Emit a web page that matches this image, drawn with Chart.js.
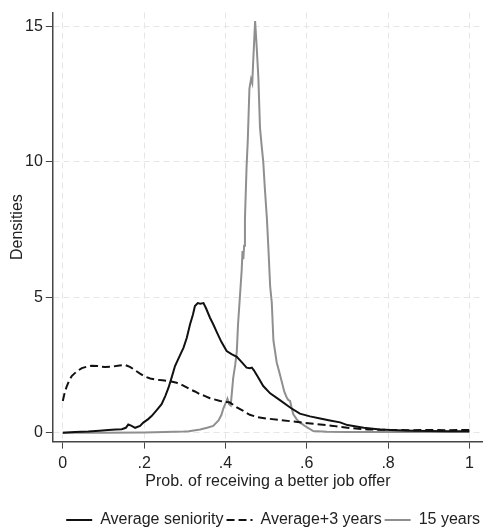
<!DOCTYPE html>
<html>
<head>
<meta charset="utf-8">
<script src="https://cdn.jsdelivr.net/npm/chart.js@4/dist/chart.umd.min.js"></script>
<style>
html,body{margin:0;padding:0;background:#fff;}
canvas{display:block;}
</style>
</head>
<body>
<canvas id="c" width="483" height="529"></canvas>
<script>
// ---- Data ----
const seriesNames = ["Average seniority", "Average+3 years", "15 years"];

const seniorityX = [0, 0.03, 0.063, 0.09, 0.112, 0.13, 0.145, 0.155, 0.161, 0.168, 0.178, 0.19, 0.198, 0.21, 0.219, 0.232, 0.243, 0.252, 0.26, 0.268, 0.276, 0.285, 0.297, 0.305, 0.313, 0.32, 0.325, 0.332, 0.338, 0.346, 0.352, 0.362, 0.37, 0.379, 0.39, 0.403, 0.415, 0.428, 0.44, 0.452, 0.46, 0.465, 0.47, 0.48, 0.493, 0.51, 0.534, 0.56, 0.583, 0.608, 0.633, 0.657, 0.682, 0.7, 0.74, 0.78, 0.82, 0.86, 0.9, 0.95, 1.0];
const seniorityY = [0, 0.02, 0.04, 0.07, 0.1, 0.12, 0.13, 0.18, 0.3, 0.26, 0.18, 0.25, 0.37, 0.5, 0.62, 0.85, 1.05, 1.35, 1.66, 2.05, 2.46, 2.75, 3.14, 3.5, 4.0, 4.35, 4.67, 4.78, 4.76, 4.78, 4.6, 4.24, 4.0, 3.7, 3.35, 3.01, 2.9, 2.8, 2.6, 2.4, 2.38, 2.4, 2.3, 2.05, 1.72, 1.45, 1.2, 0.92, 0.7, 0.6, 0.52, 0.45, 0.38, 0.28, 0.18, 0.12, 0.09, 0.07, 0.06, 0.05, 0.05];

const plus3X = [0.0, 0.005, 0.01, 0.016, 0.022, 0.035, 0.047, 0.06, 0.071, 0.085, 0.104, 0.12, 0.135, 0.153, 0.165, 0.178, 0.19, 0.202, 0.215, 0.227, 0.245, 0.264, 0.28, 0.293, 0.313, 0.325, 0.337, 0.35, 0.362, 0.387, 0.403, 0.41, 0.42, 0.428, 0.444, 0.46, 0.477, 0.502, 0.534, 0.583, 0.62, 0.665, 0.7, 0.75, 0.8, 0.85, 0.9, 0.95, 1.0];
const plus3Y = [1.17, 1.5, 1.72, 1.93, 2.09, 2.27, 2.38, 2.44, 2.47, 2.46, 2.42, 2.43, 2.47, 2.5, 2.43, 2.3, 2.18, 2.07, 2.0, 1.96, 1.93, 1.9, 1.84, 1.76, 1.6, 1.52, 1.42, 1.35, 1.27, 1.17, 1.13, 1.12, 1.02, 0.93, 0.8, 0.66, 0.58, 0.52, 0.47, 0.38, 0.32, 0.25, 0.18, 0.12, 0.1, 0.09, 0.1, 0.09, 0.1];

const years15X = [0, 0.1, 0.2, 0.25, 0.297, 0.31, 0.338, 0.355, 0.37, 0.383, 0.39, 0.395, 0.405, 0.409, 0.413, 0.419, 0.424, 0.428, 0.431, 0.436, 0.44, 0.442, 0.444, 0.446, 0.448, 0.452, 0.455, 0.459, 0.463, 0.466, 0.468, 0.473, 0.477, 0.481, 0.485, 0.489, 0.493, 0.497, 0.502, 0.506, 0.51, 0.514, 0.518, 0.526, 0.534, 0.545, 0.551, 0.555, 0.559, 0.563, 0.567, 0.575, 0.583, 0.6, 0.616, 0.65, 0.7, 0.8, 0.9, 1.0];
const years15Y = [0.0, 0.0, 0.01, 0.02, 0.04, 0.05, 0.12, 0.18, 0.25, 0.45, 0.65, 0.9, 1.25, 1.05, 1.0, 2.0, 2.5, 3.0, 4.0, 5.1, 6.0, 6.7, 6.4, 6.9, 7.9, 9.8, 10.8, 12.7, 13.05, 12.9, 13.6, 15.19, 14.2, 13.1, 11.25, 10.6, 10.0, 9.0, 7.9, 6.7, 5.4, 4.8, 3.4, 2.6, 2.15, 1.5, 1.29, 1.2, 1.17, 0.9, 0.68, 0.5, 0.38, 0.2, 0.06, 0.03, 0.02, 0.02, 0.02, 0.02];

const yTicks = [0, 5, 10, 15];
const xTickLabels = {0: "0", 0.2: ".2", 0.4: ".4", 0.6: ".6", 0.8: ".8", 1: "1"};

function pts(xs, ys) { return xs.map((x, i) => ({x: x, y: ys[i]})); }

const FONT = "'Liberation Sans', Arial, Helvetica, sans-serif";
Chart.defaults.font.family = FONT;
Chart.defaults.font.size = 16;
Chart.defaults.color = '#222';

new Chart(document.getElementById('c'), {
  type: 'line',
  data: {
    datasets: [
      { label: seriesNames[0], data: pts(seniorityX, seniorityY), borderColor: '#111111', borderWidth: 2, pointRadius: 0, tension: 0, fill: false },
      { label: seriesNames[1], data: pts(plus3X, plus3Y), borderColor: '#111111', borderWidth: 2, borderDash: [8, 4], pointRadius: 0, tension: 0, fill: false },
      { label: seriesNames[2], data: pts(years15X, years15Y), borderColor: '#8f8f8f', borderWidth: 2, pointRadius: 0, tension: 0, fill: false }
    ]
  },
  options: {
    responsive: false,
    animation: false,
    layout: { padding: { left: 0, top: 12, right: 0, bottom: -9 } },
    plugins: {
      tooltip: { enabled: false },
      legend: {
        position: 'bottom',
        align: 'end',
        labels: {
          usePointStyle: true,
          pointStyleWidth: 26,
          padding: 3,
          color: '#222',
          font: { size: 16, lineHeight: 1 },
          generateLabels(chart) {
            const items = Chart.defaults.plugins.legend.labels.generateLabels(chart);
            items.forEach((it, i) => {
              const ds = chart.data.datasets[i];
              it.pointStyle = 'line';
              it.lineDash = ds.borderDash || [];
              it.lineWidth = 2;
              it.strokeStyle = ds.borderColor;
              it.fillStyle = ds.borderColor;
            });
            return items;
          }
        }
      }
    },
    scales: {
      x: {
        type: 'linear',
        min: -0.0246,
        max: 1.0335,
        border: { display: true, color: '#444', width: 1.5, dash: [6, 4] },
        grid: { color: '#e6e6e6', lineWidth: 1, tickLength: 7, tickColor: '#444', tickWidth: 1, tickBorderDash: [] },
        ticks: {
          stepSize: 0.2,
          includeBounds: false,
          padding: 5,
          color: '#222',
          maxRotation: 0,
          callback: (v) => { const k = Math.round(v * 10) / 10; return (k in xTickLabels) ? xTickLabels[k] : ''; }
        },
        title: { display: true, text: 'Prob. of receiving a better job offer', color: '#222', font: { size: 16 }, padding: { top: -6, bottom: 18 } }
      },
      y: {
        type: 'linear',
        min: -0.33,
        max: 15.5,
        border: { display: true, color: '#444', width: 1.5, dash: [6, 4] },
        grid: { color: '#e6e6e6', lineWidth: 1, tickLength: 7, tickColor: '#444', tickWidth: 1, tickBorderDash: [] },
        afterBuildTicks: (scale) => { scale.ticks = yTicks.map(v => ({value: v})); },
        ticks: { padding: 3, color: '#222', includeBounds: false },
        title: { display: true, text: 'Densities', color: '#222', font: { size: 16, lineHeight: 1 }, padding: { top: 10, bottom: -4 } }
      }
    }
  }
});
</script>
</body>
</html>
